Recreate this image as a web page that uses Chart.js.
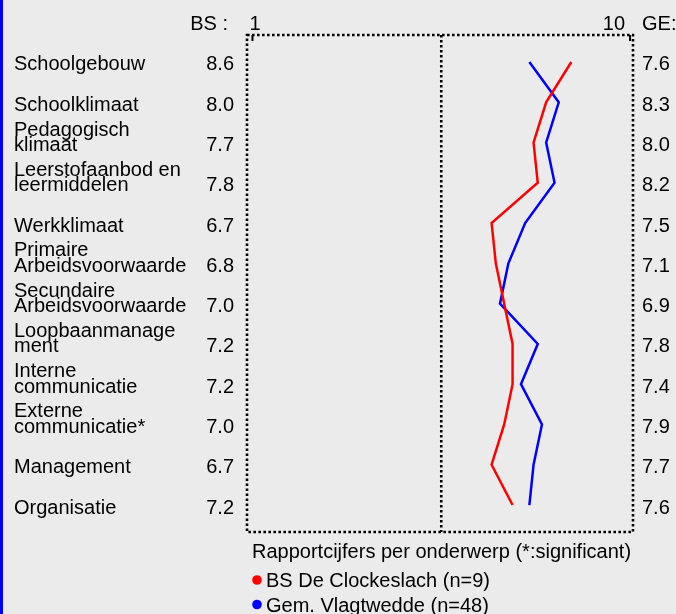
<!DOCTYPE html>
<html>
<head>
<meta charset="utf-8">
<script src="https://cdn.jsdelivr.net/npm/chart.js@4/dist/chart.umd.min.js"></script>
<style>
  html, body { margin: 0; padding: 0; background: #ebebeb; }
  #wrap { width: 676px; height: 614px; position: relative; }
</style>
</head>
<body>
<div id="wrap"><canvas id="myChart" width="676" height="614"></canvas></div>
<script>
// rows, top to bottom
const categories = [
    "Schoolgebouw",
    "Schoolklimaat",
    "Pedagogisch\nklimaat",
    "Leerstofaanbod en\nleermiddelen",
    "Werkklimaat",
    "Primaire\nArbeidsvoorwaarde",
    "Secundaire\nArbeidsvoorwaarde",
    "Loopbaanmanage\nment",
    "Interne\ncommunicatie",
    "Externe\ncommunicatie*",
    "Management",
    "Organisatie"
];
const bsValues = [8.6, 8.0, 7.7, 7.8, 6.7, 6.8, 7.0, 7.2, 7.2, 7.0, 6.7, 7.2];
const geValues = [7.6, 8.3, 8.0, 8.2, 7.5, 7.1, 6.9, 7.8, 7.4, 7.9, 7.7, 7.6];
const scaleTicks = [1, 10];
const seriesNames = ["BS De Clockeslach (n=9)", "Gem. Vlagtwedde (n=48)"];
const seriesColors = ["#ff0000", "#0000ff"];
const legendTitle = "Rapportcijfers per onderwerp (*:significant)";

const FONT = '20px "Liberation Sans", Arial, sans-serif';

const textPlugin = {
    id: "rowText",
    afterDraw(chart) {
        const ctx = chart.ctx;
        const area = chart.chartArea;
        const xs = chart.scales.x;
        const ys = chart.scales.y;
        ctx.save();

        // blue strip on the left edge
        ctx.fillStyle = "#0000ff";
        ctx.fillRect(0, 0, 3, chart.height);

        // dotted frame + middle line
        ctx.strokeStyle = "#000";
        ctx.lineWidth = 2.6;
        ctx.setLineDash([2.6, 2.4]);
        ctx.strokeRect(area.left, area.top, area.right - area.left, area.bottom - area.top);
        const mid = xs.getPixelForValue((scaleTicks[0] + scaleTicks[1]) / 2);
        ctx.beginPath();
        ctx.moveTo(mid, area.top);
        ctx.lineTo(mid, area.bottom);
        ctx.stroke();
        ctx.setLineDash([]);

        // small ticks at 1 and 10
        ctx.lineWidth = 2;
        scaleTicks.forEach(t => {
            const px = xs.getPixelForValue(t);
            ctx.beginPath();
            ctx.moveTo(px, area.top);
            ctx.lineTo(px, area.top + 6);
            ctx.stroke();
        });

        ctx.fillStyle = "#000";
        ctx.font = FONT;
        ctx.textBaseline = "alphabetic";

        // header
        ctx.textAlign = "right";
        ctx.fillText("BS :", 228, 30);
        ctx.fillText(String(scaleTicks[1]), xs.getPixelForValue(scaleTicks[1]) - 5, 30);
        ctx.textAlign = "left";
        ctx.fillText(String(scaleTicks[0]), xs.getPixelForValue(scaleTicks[0]) - 3, 30);
        ctx.fillText("GE:", 642, 30);

        // rows
        categories.forEach((name, i) => {
            const y = ys.getPixelForValue(i) + 8.5;
            const lines = name.split("\n");
            ctx.textAlign = "left";
            if (lines.length === 2) {
                ctx.fillText(lines[0], 14, y - 15.5);
                ctx.fillText(lines[1], 14, y);
            } else {
                ctx.fillText(lines[0], 14, y);
            }
            ctx.textAlign = "right";
            ctx.fillText(bsValues[i].toFixed(1), 234, y);
            ctx.textAlign = "left";
            ctx.fillText(geValues[i].toFixed(1), 642, y);
        });

        // legend
        ctx.textAlign = "left";
        ctx.fillText(legendTitle, 252, 558);
        seriesNames.forEach((s, k) => {
            const by = 587 + k * 24.5;
            ctx.fillStyle = seriesColors[k];
            ctx.beginPath();
            ctx.arc(257, by - 7, 4.8, 0, Math.PI * 2);
            ctx.fill();
            ctx.fillStyle = "#000";
            ctx.fillText(s, 266, by);
        });
        ctx.restore();
    }
};

const myChart = document.getElementById("myChart").getContext("2d");

new Chart(myChart, {
    type: "line",
    data: {
        datasets: [
            {
                label: seriesNames[0],
                data: bsValues.map((v, i) => ({ x: v, y: i })),
                borderColor: seriesColors[0],
                borderWidth: 2.5,
                pointRadius: 0,
                tension: 0,
                fill: false
            },
            {
                label: seriesNames[1],
                data: geValues.map((v, i) => ({ x: v, y: i })),
                borderColor: seriesColors[1],
                borderWidth: 2.5,
                pointRadius: 0,
                tension: 0,
                fill: false
            }
        ]
    },
    options: {
        responsive: false,
        animation: false,
        layout: { padding: { left: 247, right: 43, top: 35, bottom: 82 } },
        scales: {
            x: { type: "linear", min: 0.87, max: 10.07, display: false },
            y: { type: "linear", min: -0.67, max: 11.67, reverse: true, display: false }
        },
        plugins: {
            legend: { display: false },
            tooltip: { enabled: false }
        }
    },
    plugins: [textPlugin]
});
</script>
</body>
</html>
